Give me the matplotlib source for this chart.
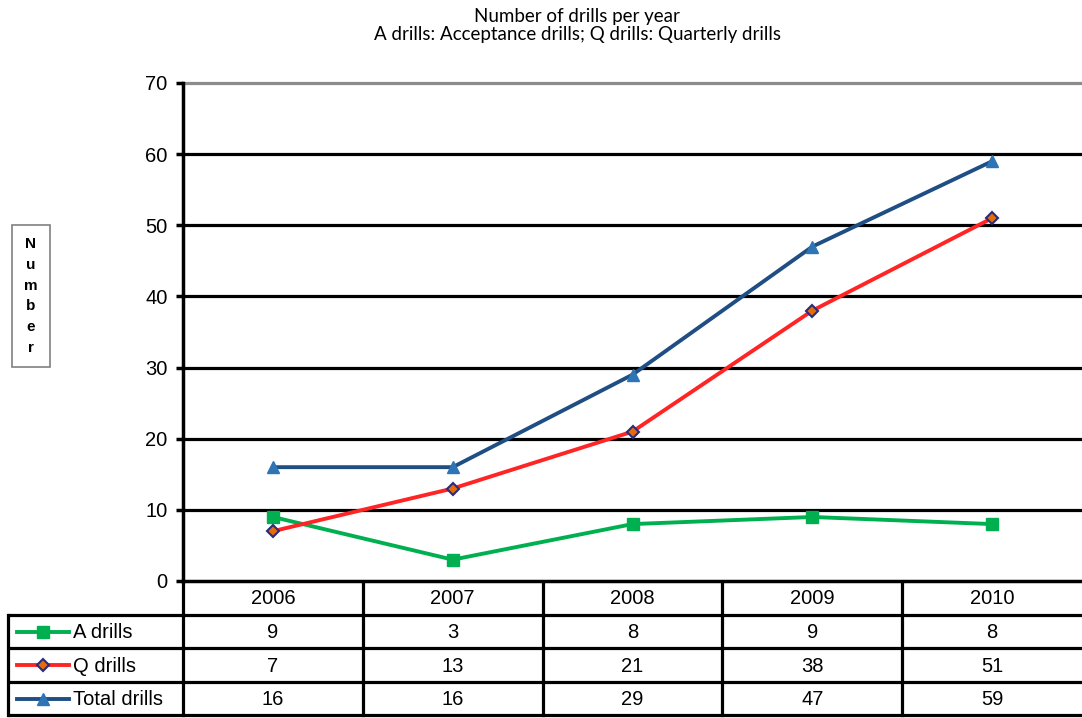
import matplotlib.pyplot as plt
from matplotlib.lines import Line2D

# data
years = ['2006', '2007', '2008', '2009', '2010']
a_drills = [9, 3, 8, 9, 8]
q_drills = [7, 13, 21, 38, 51]
total_drills = [16, 16, 29, 47, 59]
series_names = ['A drills', 'Q drills', 'Total drills']

plt.rcParams['font.family'] = ['Liberation Sans', 'DejaVu Sans']

W, H = 1082, 718
fig = plt.figure(figsize=(W / 100, H / 100), dpi=100)

# main plot area (pixel layout)
left_px, right_px, top_px, bot_px = 183, 1082, 83, 581
ax = fig.add_axes([left_px / W, 1 - bot_px / H, (right_px - left_px) / W, (bot_px - top_px) / H])

x = list(range(len(years)))
styles = [
    dict(color='#00B050', marker='s', ms=8, mfc='#00B050', mec='#00B050'),
    dict(color='#FF2525', marker='D', ms=6.5, mfc='#E46C0A', mec='#2B2B7A', mew=1.5),
    dict(color='#1F4E85', marker='^', ms=9, mfc='#2E75B6', mec='#2E75B6'),
]
for vals, st in zip([a_drills, q_drills, total_drills], styles):
    ax.plot(x, vals, lw=2.8, zorder=5, **st)

ax.set_xlim(-0.5, len(years) - 0.5)
ax.set_ylim(0, 70)
ax.set_yticks(range(0, 71, 10))
ax.set_xticks([])
for y in range(10, 70, 10):
    ax.axhline(y, color='black', lw=2.3, zorder=1)
ax.axhline(70, color='#8C8C8C', lw=2.3, zorder=1, clip_on=False)
for s in ['top', 'right']:
    ax.spines[s].set_visible(False)
ax.spines['left'].set_linewidth(2.5)
ax.spines['bottom'].set_linewidth(2.5)
ax.tick_params(axis='y', length=5, width=2.5, labelsize=14.5, pad=6)

# title
fig.text(577 / W, 1 - 8 / H, 'Number of drills per year\nA drills: Acceptance drills; Q drills: Quarterly drills',
         ha='center', va='top', fontsize=13.5, family=['Lato', 'DejaVu Sans'], linespacing=1.05)

# y label box
fig.text(31 / W, 1 - 296 / H, '\n'.join('Number'), ha='center', va='center', fontsize=11,
         fontweight='bold', linespacing=1.6,
         bbox=dict(boxstyle='square,pad=0.8', fc='white', ec='#808080', lw=1.2))

# data table (overlay axes in pixel coordinates)
tb = fig.add_axes([0, 0, 1, 1], zorder=-1)
tb.set_xlim(0, W)
tb.set_ylim(H, 0)
tb.axis('off')

col_w = (right_px - left_px) / len(years)
col_edges = [left_px + i * col_w for i in range(len(years) + 1)]
row_edges = [bot_px, 615, 648, 682, 715]
lw = 2.3
for ry in row_edges[1:]:
    tb.plot([8, W], [ry, ry], color='black', lw=lw, solid_capstyle='butt')
tb.plot([8, 8], [row_edges[1], row_edges[-1]], color='black', lw=lw)
for cx in col_edges[:-1]:
    tb.plot([cx, cx], [row_edges[0], row_edges[-1]], color='black', lw=lw)

def row_mid(i):
    return (row_edges[i] + row_edges[i + 1]) / 2

for j, yr in enumerate(years):
    tb.text((col_edges[j] + col_edges[j + 1]) / 2, row_mid(0) + 1, yr, ha='center', va='center', fontsize=14.5)

for i, (name, vals, st) in enumerate(zip(series_names, [a_drills, q_drills, total_drills], styles)):
    ym = row_mid(i + 1)
    tb.add_line(Line2D([17, 69], [ym, ym], lw=2.8, **{k: v for k, v in st.items() if k != 'marker' and k[:1] != 'm'}))
    tb.plot([43], [ym], linestyle='none', **{k: v for k, v in st.items() if k != 'color'})
    tb.text(73, ym + 1, name, ha='left', va='center', fontsize=14.5)
    for j, v in enumerate(vals):
        tb.text((col_edges[j] + col_edges[j + 1]) / 2, ym + 1, str(v), ha='center', va='center', fontsize=14.5)

fig.savefig('out.png', dpi=100)
